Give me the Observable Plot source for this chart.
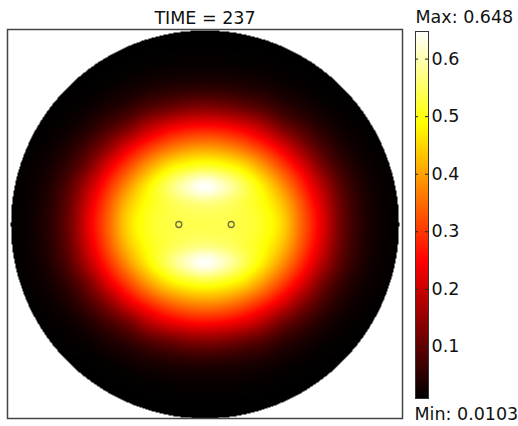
<!DOCTYPE html>
<html><head><meta charset="utf-8">
<script src="https://cdn.jsdelivr.net/npm/d3@7"></script>
<script src="https://cdn.jsdelivr.net/npm/@observablehq/plot@0.6"></script>
<style>
html,body{margin:0;padding:0;background:#fff;}
#chart{position:relative;width:518px;height:426px;overflow:hidden;font-family:"DejaVu Sans",sans-serif;}
#chart svg{position:absolute;top:0;}
</style></head><body><div id="chart"></div>
<script>
// ---- data ----
const titleText = ["TIME = 237"];
const maxLabel = ["Max: 0.648"];
const minLabel = ["Min: 0.0103"];
const colorDomain = [0.0103, 0.648];
const barTicks = [0.1, 0.2, 0.3, 0.4, 0.5, 0.6];
// grid positions (disk radius = 1)
const uGrid = [-1,-0.9,-0.8,-0.7,-0.6,-0.5,-0.4,-0.3,-0.2,-0.1,0,0.1,0.2,0.3,0.4,0.5,0.6,0.7,0.8,0.9,1];
const vGrid = [1,0.9,0.8,0.7,0.6,0.5,0.4,0.3,0.2,0.1,0,-0.1,-0.2,-0.3,-0.4,-0.5,-0.6,-0.7,-0.8,-0.9,-1];
// field values, one row per vGrid entry, one column per uGrid entry
const field = [
[.0103,.0103,.0103,.0103,.0103,.0103,.0103,.0103,.0103,.0103,.0103,.0103,.0103,.0103,.0103,.0103,.0103,.0103,.0103,.0103,.0103],
[.0103,.0103,.0103,.0103,.0103,.0103,.0105,.011,.011,.012,.012,.012,.011,.011,.0105,.0103,.0103,.0103,.0103,.0103,.0103],
[.0103,.0103,.0103,.0103,.0105,.011,.013,.016,.019,.021,.021,.021,.019,.016,.013,.011,.0105,.0103,.0103,.0103,.0103],
[.0103,.0103,.0103,.011,.012,.018,.025,.036,.044,.050,.053,.050,.044,.036,.025,.018,.012,.011,.0103,.0103,.0103],
[.0103,.0103,.011,.014,.021,.037,.056,.086,.108,.128,.136,.128,.108,.086,.056,.037,.021,.014,.011,.0103,.0103],
[.0103,.011,.014,.022,.043,.078,.121,.182,.228,.255,.265,.255,.228,.182,.121,.078,.043,.022,.014,.011,.0103],
[.0105,.012,.020,.040,.081,.143,.223,.290,.343,.377,.390,.377,.343,.290,.223,.143,.081,.040,.020,.012,.0105],
[.011,.016,.030,.064,.127,.224,.311,.392,.460,.499,.516,.499,.460,.392,.311,.224,.127,.064,.030,.016,.011],
[.012,.019,.041,.092,.183,.286,.384,.471,.542,.607,.645,.607,.542,.471,.384,.286,.183,.092,.041,.019,.012],
[.012,.021,.048,.109,.217,.326,.432,.496,.529,.552,.562,.552,.529,.496,.432,.326,.217,.109,.048,.021,.012],
[.012,.022,.050,.115,.230,.340,.450,.508,.530,.537,.536,.537,.530,.508,.450,.340,.230,.115,.050,.022,.012],
[.012,.021,.048,.109,.217,.326,.432,.496,.529,.552,.562,.552,.529,.496,.432,.326,.217,.109,.048,.021,.012],
[.012,.019,.041,.092,.183,.286,.384,.471,.542,.607,.645,.607,.542,.471,.384,.286,.183,.092,.041,.019,.012],
[.011,.016,.030,.064,.127,.224,.311,.392,.460,.499,.516,.499,.460,.392,.311,.224,.127,.064,.030,.016,.011],
[.0105,.012,.020,.040,.081,.143,.223,.290,.343,.377,.390,.377,.343,.290,.223,.143,.081,.040,.020,.012,.0105],
[.0103,.011,.014,.022,.043,.078,.121,.182,.228,.255,.265,.255,.228,.182,.121,.078,.043,.022,.014,.011,.0103],
[.0103,.0103,.011,.014,.021,.037,.056,.086,.108,.128,.136,.128,.108,.086,.056,.037,.021,.014,.011,.0103,.0103],
[.0103,.0103,.0103,.011,.012,.018,.025,.036,.044,.050,.053,.050,.044,.036,.025,.018,.012,.011,.0103,.0103,.0103],
[.0103,.0103,.0103,.0103,.0105,.011,.013,.016,.019,.021,.021,.021,.019,.016,.013,.011,.0105,.0103,.0103,.0103,.0103],
[.0103,.0103,.0103,.0103,.0103,.0103,.0105,.011,.011,.012,.012,.012,.011,.011,.0105,.0103,.0103,.0103,.0103,.0103,.0103],
[.0103,.0103,.0103,.0103,.0103,.0103,.0103,.0103,.0103,.0103,.0103,.0103,.0103,.0103,.0103,.0103,.0103,.0103,.0103,.0103,.0103]
];
const diskRadius = 1;
// two small point markers
const holeU = [-0.135, 0.135];
const holeV = [0, 0];

// ---- rendering ----
const nU = uGrid.length, nV = vGrid.length;
function at(j, i) {
  j = Math.max(0, Math.min(nV - 1, j));
  i = Math.max(0, Math.min(nU - 1, i));
  return field[j][i];
}
function cr(p0, p1, p2, p3, t) {
  return p1 + 0.5 * t * (p2 - p0 + t * (2 * p0 - 5 * p1 + 4 * p2 - p3 + t * (3 * (p1 - p2) + p3 - p0)));
}
function sampleField(x, y) {
  if (x * x + y * y > diskRadius * diskRadius) return NaN;
  const fx = (x - uGrid[0]) / (uGrid[1] - uGrid[0]);
  const fy = (y - vGrid[0]) / (vGrid[1] - vGrid[0]);
  const i = Math.floor(fx), j = Math.floor(fy);
  const tx = fx - i, ty = fy - j;
  const r = [-1, 0, 1, 2].map(k => cr(at(j + k, i - 1), at(j + k, i), at(j + k, i + 1), at(j + k, i + 2), tx));
  return cr(r[0], r[1], r[2], r[3], ty);
}

const [cMin, cMax] = colorDomain;
const colorScale = {
  type: "linear",
  domain: [cMin, cMin + 0.375 * (cMax - cMin), cMin + 0.75 * (cMax - cMin), cMax],
  range: ["black", "red", "yellow", "white"],
  interpolate: "rgb",
  clamp: true
};
const fontStyle = {fontFamily: "DejaVu Sans, sans-serif", fontSize: "17.5px", color: "#111", background: "transparent"};

const xDom = [-1.018, 1.018], yDom = [-1.0, 1.005];
const holes = holeU.map((u, i) => ({u, v: holeV[i]}));

const main = Plot.plot({
  width: 410, height: 426,
  marginLeft: 7, marginRight: 8, marginTop: 29, marginBottom: 8,
  x: {domain: xDom, axis: null},
  y: {domain: yDom, axis: null},
  color: colorScale,
  style: fontStyle,
  marks: [
    Plot.raster({fill: sampleField, x1: xDom[0], x2: xDom[1], y1: yDom[0], y2: yDom[1]}),
    Plot.dot(holes, {x: "u", y: "v", r: 3, stroke: "#6f6f3a", strokeWidth: 1.3, fill: "none"}),
    Plot.frame({stroke: "#444", strokeWidth: 1.5}),
    Plot.text(titleText, {frameAnchor: "top", lineAnchor: "middle", dy: -11.5, fontSize: 17.5, fill: "#111"})
  ]
});

const bar = Plot.plot({
  width: 108, height: 426,
  marginLeft: 5, marginRight: 90, marginTop: 31, marginBottom: 28,
  x: {domain: [0, 1], axis: null},
  y: {domain: colorDomain, axis: null},
  color: colorScale,
  style: fontStyle,
  marks: [
    Plot.raster({fill: (x, y) => y, x1: 0, x2: 1, y1: cMin, y2: cMax}),
    Plot.ruleY(barTicks, {x1: 0, x2: 0.23, stroke: "#222"}),
    Plot.ruleY(barTicks, {x1: 0.77, x2: 1, stroke: "#222"}),
    Plot.frame({stroke: "#333"}),
    Plot.axisY(barTicks, {anchor: "right", tickSize: 0, tickPadding: 3, fontSize: 17.5, fill: "#111", label: null, tickFormat: d => String(d)}),
    Plot.text(maxLabel, {frameAnchor: "top-left", lineAnchor: "middle", textAnchor: "start", dy: -14, fontSize: 17.5, fill: "#111"}),
    Plot.text(minLabel, {frameAnchor: "bottom-left", lineAnchor: "middle", textAnchor: "start", dx: -1, dy: 16, fontSize: 17.5, fill: "#111"})
  ]
});

const chart = document.getElementById("chart");
main.style.left = "0px";
bar.style.left = "410px";
chart.appendChild(main);
chart.appendChild(bar);
</script></body></html>
